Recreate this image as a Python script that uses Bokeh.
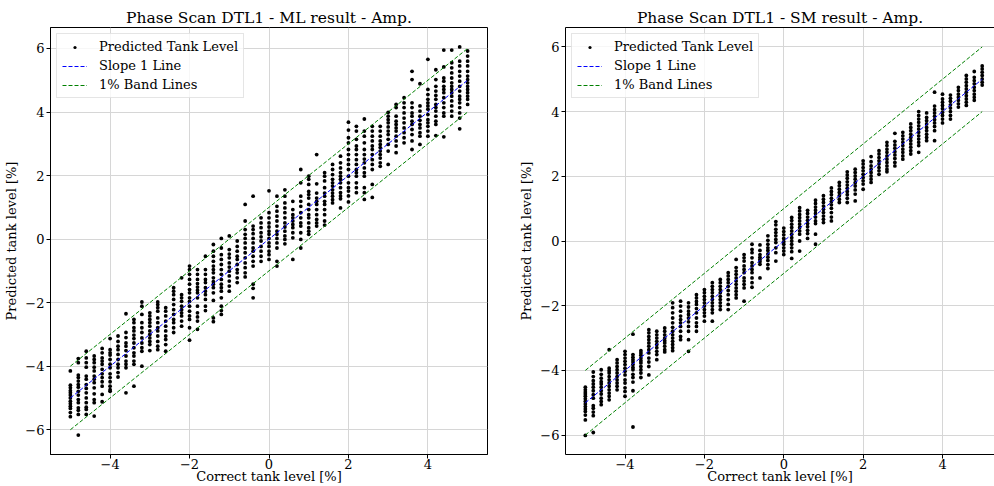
from bokeh.plotting import figure
from bokeh.layouts import row
from bokeh.models import Range1d, FixedTicker, LinearAxis, Legend, LegendItem
from bokeh.embed import file_html
from bokeh.resources import INLINE

# ---------------- data ----------------
x_levels = [-5.0, -4.8, -4.6, -4.4, -4.2, -4.0, -3.8, -3.6, -3.4, -3.2, -3.0,
            -2.8, -2.6, -2.4, -2.2, -2.0, -1.8, -1.6, -1.4, -1.2, -1.0,
            -0.8, -0.6, -0.4, -0.2, 0.0, 0.2, 0.4, 0.6, 0.8, 1.0,
            1.2, 1.4, 1.6, 1.8, 2.0, 2.2, 2.4, 2.6, 2.8, 3.0,
            3.2, 3.4, 3.6, 3.8, 4.0, 4.2, 4.4, 4.6, 4.8, 5.0]

# ML result: predicted tank level for each correct level (one list per x level)
ml_predicted = [
    [-4.15, -4.60, -4.68, -4.77, -4.84, -4.91, -5.00, -5.10, -5.18, -5.26, -5.33, -5.46, -5.59],
    [-3.76, -3.89, -4.28, -4.36, -4.47, -4.58, -4.66, -4.79, -4.91, -5.05, -5.15, -5.31, -5.39, -5.52, -6.17],
    [-3.53, -3.74, -3.89, -4.03, -4.31, -4.41, -4.58, -4.70, -4.84, -5.00, -5.15, -5.29, -5.36, -5.52],
    [-3.68, -3.79, -3.89, -4.03, -4.15, -4.31, -4.41, -4.52, -4.68, -4.87, -5.05, -5.15, -5.57],
    [-3.44, -3.58, -3.74, -3.84, -3.94, -4.10, -4.24, -4.36, -4.49, -4.63, -4.89, -5.12],
    [-3.13, -3.48, -3.58, -3.65, -3.79, -3.94, -4.05, -4.24, -4.36, -4.49, -4.63, -4.74, -4.79],
    [-3.05, -3.22, -3.37, -3.48, -3.63, -3.79, -3.94, -4.05, -4.20, -4.34],
    [-2.35, -2.94, -3.10, -3.27, -3.37, -3.51, -3.68, -3.84, -3.94, -4.05, -4.84],
    [-2.53, -2.63, -2.79, -2.89, -3.02, -3.13, -3.27, -3.42, -3.58, -3.68, -3.84, -3.94, -4.63],
    [-1.98, -2.11, -2.37, -2.63, -2.79, -2.94, -3.11, -3.27, -3.42, -3.53, -4.00],
    [-2.32, -2.42, -2.53, -2.63, -2.74, -2.89, -3.00, -3.11, -3.22, -3.32, -3.51],
    [-1.98, -2.06, -2.16, -2.27, -2.48, -2.63, -2.79, -2.89, -3.05, -3.22, -3.37, -3.48],
    [-2.16, -2.27, -2.42, -2.58, -2.74, -2.89, -3.05, -3.16, -3.32, -3.53],
    [-1.53, -1.64, -1.75, -1.90, -2.06, -2.22, -2.37, -2.53, -2.63, -2.79, -2.94],
    [-1.22, -1.75, -1.85, -1.96, -2.11, -2.22, -2.32, -2.42, -2.58, -2.74],
    [-0.85, -0.96, -1.11, -1.27, -1.42, -1.59, -1.69, -1.85, -1.96, -2.11, -2.27, -2.42, -2.53, -2.79, -3.18],
    [-0.96, -1.11, -1.27, -1.40, -1.51, -1.61, -1.69, -1.85, -2.11, -2.32, -2.45, -2.58, -2.84],
    [-0.54, -0.96, -1.11, -1.27, -1.37, -1.53, -1.64, -1.75, -1.90, -2.11, -2.25],
    [-0.17, -0.38, -0.54, -0.70, -0.85, -0.96, -1.06, -1.22, -1.34, -1.42, -1.53, -1.69, -1.93, -2.48, -2.60],
    [0.02, -0.28, -0.49, -0.64, -0.80, -0.96, -1.11, -1.27, -1.42, -1.53, -1.64, -1.85, -2.11, -2.25, -2.37],
    [0.10, -0.33, -0.47, -0.59, -0.75, -0.88, -1.01, -1.16, -1.32, -1.48, -1.64],
    [-0.06, -0.23, -0.38, -0.54, -0.64, -0.80, -0.96, -1.06, -1.22, -1.37],
    [1.09, 0.57, 0.30, 0.15, 0.02, -0.12, -0.28, -0.43, -0.59, -0.75, -0.90, -1.06, -1.19],
    [1.35, 0.41, 0.30, 0.17, 0.02, -0.12, -0.28, -0.38, -0.54, -0.70, -0.85, -1.42, -1.55, -1.85],
    [0.67, 0.51, 0.36, 0.20, 0.07, -0.06, -0.23, -0.38, -0.54, -0.70],
    [1.52, 0.83, 0.67, 0.51, 0.38, 0.25, 0.15, 0.02, -0.12, -0.23, -0.38, -0.49, -0.64],
    [1.35, 1.03, 0.88, 0.72, 0.57, 0.41, 0.25, 0.15, 0.02, -0.12, -0.28, -0.70, -0.85],
    [1.55, 1.35, 1.14, 0.98, 0.83, 0.67, 0.51, 0.38, 0.25, 0.10, -0.01, -0.15],
    [1.19, 0.93, 0.77, 0.67, 0.57, 0.46, 0.36, 0.20, 0.04, -0.64],
    [2.19, 1.77, 1.35, 1.19, 1.03, 0.83, 0.67, 0.51, 0.41, 0.20, -0.01, -0.28],
    [1.98, 1.88, 1.72, 1.50, 1.40, 1.29, 1.09, 0.93, 0.77, 0.67, 0.51, 0.36, 0.25, 0.15],
    [2.66, 1.74, 1.45, 1.29, 1.19, 1.09, 0.93, 0.77, 0.62, 0.51, 0.41],
    [2.09, 1.98, 1.83, 1.62, 1.45, 1.35, 1.19, 1.09, 0.93, 0.77, 0.57, 0.44],
    [2.35, 2.19, 2.03, 1.88, 1.77, 1.67, 1.55, 1.45, 1.35, 1.24, 1.14],
    [2.61, 2.40, 2.24, 2.09, 1.98, 1.88, 1.77, 1.62, 1.46, 1.36, 1.27, 0.98],
    [3.68, 3.43, 3.19, 3.03, 2.82, 2.66, 2.50, 2.35, 2.19, 1.98, 1.77, 1.62, 1.51, 1.36, 1.17],
    [3.55, 3.40, 3.14, 2.93, 2.82, 2.66, 2.50, 2.35, 2.19, 2.09, 1.98, 1.77, 1.62, 1.46],
    [3.78, 3.40, 3.24, 3.03, 2.82, 2.66, 2.52, 2.40, 2.24, 2.09, 1.98, 1.62, 1.46, 1.25],
    [3.55, 3.40, 3.24, 3.09, 2.93, 2.82, 2.66, 2.50, 2.35, 2.19, 1.72, 1.31],
    [3.55, 3.40, 3.24, 3.09, 2.98, 2.88, 2.77, 2.66, 2.55, 2.40, 2.29],
    [3.99, 3.87, 3.76, 3.66, 3.53, 3.40, 3.29, 3.14, 2.98, 2.77, 2.35],
    [4.24, 4.14, 3.87, 3.71, 3.61, 3.50, 3.40, 3.24, 3.09, 2.93, 2.72],
    [4.45, 4.29, 4.14, 3.97, 3.81, 3.66, 3.50, 3.35, 3.19, 3.03],
    [5.28, 5.02, 4.29, 4.14, 3.97, 3.87, 3.71, 3.61, 3.45, 3.29, 3.09, 2.82],
    [4.89, 4.19, 4.03, 3.87, 3.74, 3.61, 3.50, 3.35, 3.24, 2.98],
    [5.66, 4.71, 4.55, 4.40, 4.29, 4.19, 4.09, 3.92, 3.76, 3.66, 3.55, 3.40, 3.24],
    [5.33, 5.02, 4.81, 4.66, 4.52, 4.40, 4.24, 4.14, 4.03, 3.87, 3.71, 3.61, 3.26],
    [5.95, 5.42, 5.07, 4.97, 4.81, 4.71, 4.61, 4.45, 4.29, 4.14, 3.97, 3.87, 3.22],
    [5.95, 5.55, 5.39, 5.23, 5.07, 4.92, 4.81, 4.71, 4.61, 4.50, 4.35, 4.19, 4.03, 3.87],
    [6.05, 5.60, 5.45, 5.28, 5.13, 4.97, 4.81, 4.66, 4.50, 4.40, 4.29, 4.14, 3.97, 3.81, 3.47],
    [5.92, 5.76, 5.60, 5.45, 5.28, 5.13, 5.02, 4.92, 4.81, 4.71, 4.61, 4.50, 4.40, 4.24],
]

# SM result: predicted tank level for each correct level (one list per x level)
sm_predicted = [
    [-4.52, -4.60, -4.67, -4.73, -4.80, -4.88, -4.96, -5.04, -5.12, -5.19, -5.27, -5.38, -5.53, -6.01],
    [-4.05, -4.19, -4.32, -4.42, -4.52, -4.63, -4.75, -4.86, -5.09, -5.17, -5.29, -5.40, -5.92],
    [-3.98, -4.12, -4.24, -4.35, -4.42, -4.52, -4.63, -4.73, -4.86, -4.96, -5.06],
    [-3.36, -3.93, -4.01, -4.08, -4.19, -4.29, -4.39, -4.49, -4.60, -4.70, -4.80, -4.91],
    [-3.67, -3.77, -3.88, -3.98, -4.08, -4.19, -4.29, -4.39, -4.49, -4.60],
    [-3.41, -3.51, -3.62, -3.72, -3.82, -3.93, -4.03, -4.14, -4.29, -4.39, -4.54, -4.65, -4.80],
    [-2.88, -3.51, -3.59, -3.67, -3.74, -3.82, -3.91, -3.98, -4.12, -4.22, -4.36, -4.63, -5.75],
    [-3.39, -3.46, -3.53, -3.62, -3.70, -3.77, -3.88, -3.98, -4.08, -4.22],
    [-2.74, -2.84, -2.95, -3.05, -3.15, -3.25, -3.36, -3.46, -3.62, -3.74, -3.88, -4.14],
    [-2.79, -2.90, -3.00, -3.10, -3.20, -3.30, -3.41, -3.51, -3.67],
    [-2.69, -2.79, -2.90, -3.00, -3.08, -3.15, -3.25, -3.36, -3.43],
    [-1.91, -2.06, -2.22, -2.38, -2.53, -2.67, -2.79, -2.90, -3.00, -3.10, -3.20, -3.30, -3.39],
    [-1.86, -2.01, -2.17, -2.32, -2.43, -2.53, -2.64, -2.79, -2.95, -3.05],
    [-1.91, -2.04, -2.17, -2.27, -2.38, -2.50, -2.64, -2.79, -3.05, -3.41],
    [-1.66, -1.76, -1.87, -1.96, -2.09, -2.22, -2.38, -2.53, -2.64, -2.79],
    [-1.50, -1.60, -1.71, -1.81, -1.91, -2.01, -2.12, -2.22, -2.32, -2.48],
    [-1.29, -1.40, -1.50, -1.60, -1.71, -1.81, -1.91, -2.01, -2.12, -2.22, -2.48],
    [-1.19, -1.29, -1.40, -1.50, -1.60, -1.71, -1.81, -1.91, -2.01, -2.12],
    [-0.98, -1.08, -1.19, -1.29, -1.40, -1.53, -1.66, -1.81, -1.96, -2.12],
    [-0.57, -0.82, -0.93, -1.03, -1.14, -1.24, -1.34, -1.45, -1.55, -1.66, -1.76],
    [-0.42, -0.52, -0.62, -0.77, -0.88, -0.98, -1.14, -1.24, -1.34, -1.45, -1.86],
    [-0.10, -0.26, -0.36, -0.52, -0.67, -0.77, -0.88, -0.98, -1.14, -1.29, -1.43],
    [-0.12, -0.29, -0.42, -0.50, -0.57, -0.64, -0.72, -1.14],
    [0.16, 0.02, -0.10, -0.21, -0.29, -0.40, -0.50, -0.60, -0.73, -0.85],
    [0.60, 0.50, 0.36, 0.26, 0.16, 0.05, -0.05, -0.21, -0.36, -0.62],
    [0.40, 0.29, 0.19, 0.08, -0.02, -0.10, -0.21, -0.31, -0.42],
    [0.73, 0.63, 0.52, 0.42, 0.31, 0.21, 0.10, 0.00, -0.10, -0.21, -0.33, -0.54],
    [1.03, 0.93, 0.82, 0.72, 0.62, 0.52, 0.42, 0.31, 0.21, 0.00, -0.31],
    [0.95, 0.85, 0.74, 0.64, 0.54, 0.44, 0.33, 0.23, 0.08],
    [1.26, 1.16, 1.05, 0.95, 0.85, 0.74, 0.62, 0.54, 0.21, -0.10],
    [1.40, 1.29, 1.19, 1.08, 0.98, 0.88, 0.77, 0.67, 0.57],
    [1.64, 1.53, 1.43, 1.32, 1.22, 1.12, 1.01, 0.88, 0.74, 0.62],
    [1.81, 1.71, 1.60, 1.50, 1.40, 1.29, 1.19],
    [2.14, 2.04, 1.94, 1.83, 1.73, 1.63, 1.53, 1.43, 1.32, 1.19],
    [2.22, 2.12, 2.01, 1.91, 1.80, 1.70, 1.58, 1.45, 1.24],
    [2.48, 2.38, 2.27, 2.17, 2.06, 1.96, 1.86, 1.76, 1.60],
    [2.61, 2.45, 2.32, 2.22, 2.12, 2.01, 1.91, 1.81],
    [2.79, 2.69, 2.58, 2.48, 2.38, 2.27, 2.17, 2.06],
    [3.05, 2.95, 2.84, 2.74, 2.63, 2.53, 2.43, 2.32, 2.22, 2.14],
    [3.33, 3.08, 2.97, 2.87, 2.76, 2.66, 2.55, 2.43, 2.32],
    [3.36, 3.25, 3.15, 3.05, 2.95, 2.84, 2.74, 2.63, 2.53],
    [3.62, 3.51, 3.41, 3.30, 3.20, 3.10, 3.00, 2.90, 2.79, 2.69],
    [4.00, 3.88, 3.77, 3.67, 3.56, 3.46, 3.36, 3.25, 3.15, 3.05, 2.95, 2.74],
    [3.96, 3.82, 3.72, 3.62, 3.51, 3.41, 3.30, 3.20, 3.10],
    [4.60, 4.17, 4.06, 3.96, 3.86, 3.75, 3.65, 3.54, 3.41, 3.10],
    [4.54, 4.39, 4.29, 4.19, 4.09, 3.98, 3.88, 3.77, 3.65],
    [4.51, 4.41, 4.32, 4.21, 4.11, 4.00, 3.88, 3.77],
    [4.75, 4.65, 4.54, 4.44, 4.35, 4.24, 4.14],
    [5.12, 5.01, 4.91, 4.80, 4.70, 4.60, 4.49, 4.39, 4.29, 4.19],
    [5.24, 5.06, 4.96, 4.86, 4.75, 4.65, 4.54, 4.44, 4.35],
    [5.41, 5.32, 5.22, 5.12, 5.01, 4.91, 4.82],
]

line_x = [-5, 5]
slope_y = [-5, 5]
upper_band_y = [-4, 6]
lower_band_y = [-6, 4]

x_ticks = [-4, -2, 0, 2, 4]
x_tick_labels = ["\u22124", "\u22122", "0", "2", "4"]
y_ticks = [-6, -4, -2, 0, 2, 4, 6]
y_tick_labels = ["\u22126", "\u22124", "\u22122", "0", "2", "4", "6"]

titles = ["Phase Scan DTL1 - ML result - Amp.", "Phase Scan DTL1 - SM result - Amp."]
legend_labels = ["Predicted Tank Level", "Slope 1 Line", "1% Band Lines"]
x_label = "Correct tank level [%]"
y_label = "Predicted tank level [%]"

FONT = "DejaVu Serif"


def make_panel(title, predicted, width, border_left, border_right, x_end, y_lo, y_hi, title_offset, cut_right):
    p = figure(width=width, height=486, output_backend="svg", toolbar_location=None,
               x_range=Range1d(-5.5, x_end), y_range=Range1d(y_lo, y_hi),
               min_border_left=border_left, min_border_right=border_right,
               min_border_top=27, min_border_bottom=32,
               background_fill_color="white", border_fill_color="white")
    p.title.text = title
    p.title.text_font = FONT
    p.title.text_font_size = "15.5px"
    p.title.text_font_style = "normal"
    p.title.text_color = "black"
    p.title.align = "center"
    p.title.standoff = 2
    p.title.offset = title_offset

    xs = [x for x, col in zip(x_levels, predicted) for _ in col]
    ys = [y for col in predicted for y in col]
    pts = p.scatter(xs, ys, size=3.8, fill_color="black", line_color=None)
    slope = p.line(line_x, slope_y, line_color="blue", line_width=1, line_dash="4 2")
    up = p.line(line_x, upper_band_y, line_color="green", line_width=1, line_dash="4 2")
    lo = p.line(line_x, lower_band_y, line_color="green", line_width=1, line_dash="4 2")

    legend = Legend(items=[LegendItem(label=legend_labels[0], renderers=[pts]),
                           LegendItem(label=legend_labels[1], renderers=[slope]),
                           LegendItem(label=legend_labels[2], renderers=[up])],
                    location="top_left")
    legend.label_text_font = FONT
    legend.label_text_font_size = "13px"
    legend.label_text_color = "black"
    legend.glyph_width = 25
    legend.glyph_height = 8
    legend.label_height = 15
    legend.label_standoff = 12
    legend.spacing = 4
    legend.padding = 5
    legend.margin = 6
    legend.border_line_color = "#cccccc"
    legend.background_fill_color = "white"
    legend.background_fill_alpha = 0.8
    p.add_layout(legend)

    p.xaxis.ticker = FixedTicker(ticks=x_ticks)
    p.xaxis.major_label_overrides = dict(zip(x_ticks, x_tick_labels))
    p.yaxis.ticker = FixedTicker(ticks=y_ticks)
    p.yaxis.major_label_overrides = dict(zip(y_ticks, y_tick_labels))
    p.xaxis.axis_label = x_label
    p.yaxis.axis_label = y_label
    for ax in (p.xaxis, p.yaxis):
        ax.axis_label_text_font = FONT
        ax.axis_label_text_font_size = "13px"
        ax.axis_label_text_font_style = "normal"
        ax.axis_label_text_color = "black"
        ax.major_label_text_font = FONT
        ax.major_label_text_font_size = "13px"
        ax.major_label_text_color = "black"
        ax.major_tick_in = 0
        ax.major_tick_out = 4
        ax.minor_tick_line_color = None
        ax.axis_line_color = "black"
        ax.major_tick_line_color = "black"
    p.xaxis.major_label_standoff = 0
    p.xaxis.axis_label_standoff = -3
    p.yaxis.major_label_standoff = 2
    p.yaxis.axis_label_standoff = 3

    p.grid.grid_line_color = "#d6d6d6"
    p.grid.grid_line_width = 1

    if cut_right:
        p.outline_line_color = None
        top = LinearAxis(ticker=FixedTicker(ticks=[]), major_tick_out=0, major_tick_in=0,
                         minor_tick_line_color=None, major_label_text_font_size="0px",
                         axis_line_color="black")
        p.add_layout(top, "above")
    else:
        p.outline_line_color = "black"
        p.outline_line_width = 1
    return p


left = make_panel(titles[0], ml_predicted, 505, 50, 18, 5.5, -6.78, 6.66, 0, False)
right = make_panel(titles[1], sm_predicted, 489, 60, 0, 5.31, -6.6, 6.6, 3, True)

layout = row(left, right)
open("out.html", "w").write(file_html(layout, INLINE))
